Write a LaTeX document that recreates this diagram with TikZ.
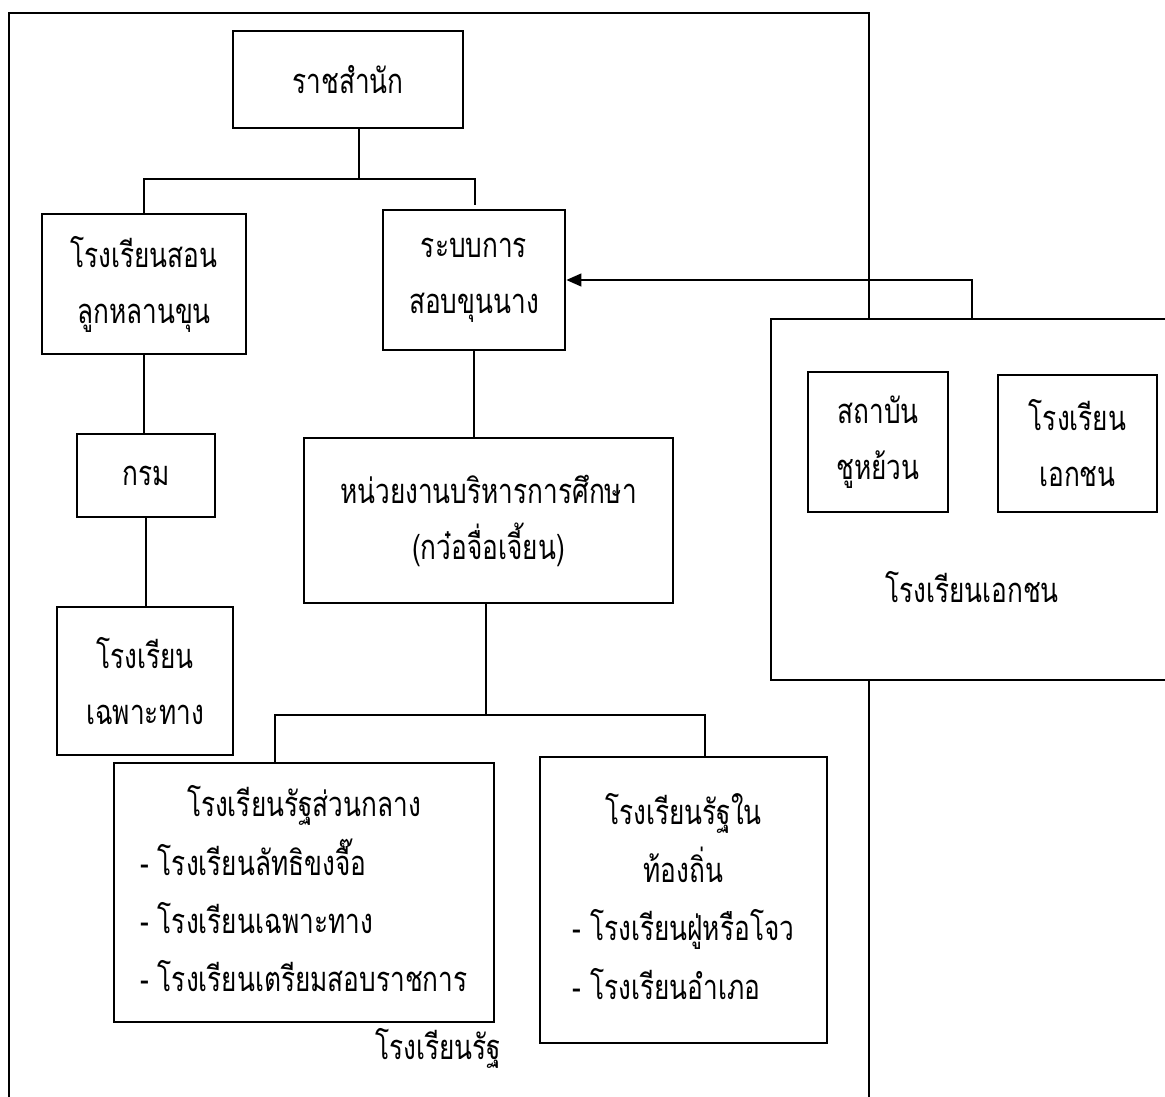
\documentclass[tikz,border=0pt]{standalone}
\usepackage{fontspec}
\newfontfamily\thai[Script=Thai,FakeStretch=0.76]{Loma}
\newcommand\thaitext{\thai\fontsize{34.5}{56}\selectfont}
\usetikzlibrary{arrows.meta}
\begin{document}
\begin{tikzpicture}[x=1pt,y=-1pt,
  box/.style={draw,line width=2.8pt,inner sep=0pt,align=center,font=\thaitext,fill=white},
  conn/.style={line width=1.3pt},
  lbl/.style={font=\thaitext,inner sep=0pt}]
\useasboundingbox (0,0) rectangle (1165,1097);
% outer frame (state schools)
\draw[line width=2.4pt] (9,1130) -- (9,13) -- (869,13) -- (869,1130);
% boxes
\node[box,minimum width=230pt,minimum height=97pt] (court) at (348,79.5) {ราชสำนัก};
\node[box,minimum width=204pt,minimum height=140pt] (noble) at (144,284) {โรงเรียนสอน\\ลูกหลานขุน};
\node[box,minimum width=182pt,minimum height=140pt] (exam) at (474,280) {ระบบการ\\สอบขุนนาง};
\node[box,minimum width=138pt,minimum height=83pt] (krom) at (146,475.5) {กรม};
\node[box,minimum width=176pt,minimum height=148pt] (spec) at (145,681) {โรงเรียน\\เฉพาะทาง};
\node[box,minimum width=369pt,minimum height=165pt] (admin) at (488.5,520.5) {หน่วยงานบริหารการศึกษา\\(กว๋อจื่อเจี้ยน)};
\node[box,minimum width=380pt,minimum height=259pt] (central) at (304,892.5)
  {\def\arraystretch{1.04}\begin{tabular}{@{}l@{}}\multicolumn{1}{@{}c@{}}{โรงเรียนรัฐส่วนกลาง}\\- โรงเรียนลัทธิขงจื๊อ\\- โรงเรียนเฉพาะทาง\\- โรงเรียนเตรียมสอบราชการ\end{tabular}};
\node[box,minimum width=287pt,minimum height=286pt] (local) at (683.5,900)
  {\def\arraystretch{1.04}\begin{tabular}{@{}l@{}}\multicolumn{1}{@{}c@{}}{โรงเรียนรัฐใน}\\\multicolumn{1}{@{}c@{}}{ท้องถิ่น}\\- โรงเรียนฝู่หรือโจว\\- โรงเรียนอำเภอ\end{tabular}};
\node[lbl] (statelbl) at (438,1048) {โรงเรียนรัฐ};
% private schools
\node[draw,fill=white,line width=2.6pt,minimum width=409pt,minimum height=361pt,inner sep=0pt] (private) at (975.5,499.5) {};
\node[box,minimum width=140pt,minimum height=140pt] (inst) at (878,442) {สถาบัน\\ชูหย้วน};
\node[box,minimum width=159pt,minimum height=137pt] (pvt) at (1077.5,443.5) {โรงเรียน\\เอกชน};
\node[lbl] (pvtlbl) at (972,587) {โรงเรียนเอกชน};
% connectors
\coordinate (j1) at (359,179);
\coordinate (e1) at (475,205);
\draw[conn] ([xshift=11pt]court.south) -- (j1);
\draw[conn] (noble.north) |- (e1 |- j1) -- (e1);
\draw[conn] (noble.south) -- (krom.north -| noble.south);
\draw[conn] (krom.south) -- (spec.north -| krom.south);
\draw[conn] (exam.south) -- (exam.south |- admin.north);
\coordinate (j2) at (486,715);
\draw[conn] (admin.south -| j2) -- (j2);
\draw[conn] ([xshift=-29pt]central.north) |- ([xshift=21.5pt]local.north |- j2) -- ([xshift=21.5pt]local.north);
\draw[conn,-{Triangle[length=15pt,width=13pt]}] ([xshift=-3.5pt]private.north) |- (exam.east);
\end{tikzpicture}
\end{document}
